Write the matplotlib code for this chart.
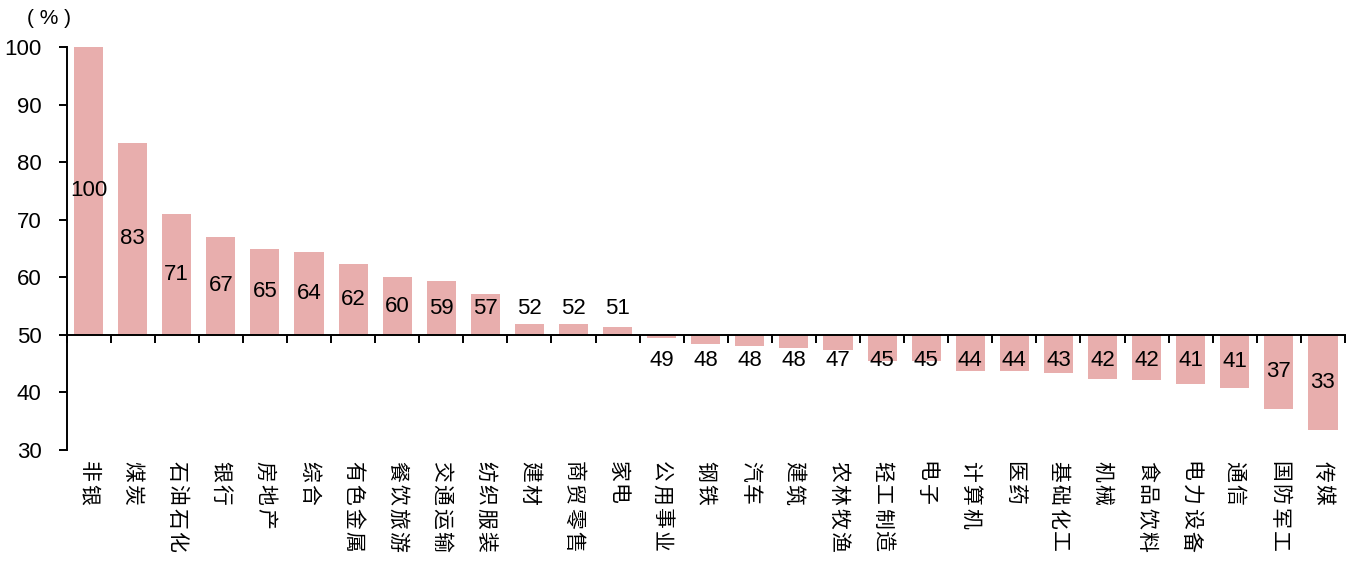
import numpy as np
import matplotlib
matplotlib.use("Agg")
import matplotlib.pyplot as plt
import matplotlib.transforms as mtrans

# Industry names and their readings (%), baseline 50
categories = ["非银", "煤炭", "石油石化", "银行", "房地产", "综合", "有色金属", "餐饮旅游",
              "交通运输", "纺织服装", "建材", "商贸零售", "家电", "公用事业", "钢铁", "汽车",
              "建筑", "农林牧渔", "轻工制造", "电子", "计算机", "医药", "基础化工", "机械",
              "食品饮料", "电力设备", "通信", "国防军工", "传媒"]
values = [100.0, 83.4, 71.0, 67.0, 64.9, 64.4, 62.3, 60.0, 59.3, 57.1, 51.9, 51.9, 51.4,
          49.4, 48.4, 48.1, 47.7, 47.4, 45.4, 45.4, 43.7, 43.7, 43.4, 42.4, 42.1, 41.4,
          40.8, 37.1, 33.4]
baseline = 50
y_ticks = [30, 40, 50, 60, 70, 80, 90, 100]

bar_color = "#E8AEAD"
num_font = ["Liberation Sans", "DejaVu Sans"]
cjk_font = ["Noto Sans CJK SC", "DejaVu Sans"]

W, H = 1355, 561
fig = plt.figure(figsize=(W / 100, H / 100), dpi=100)
ax = fig.add_axes([66.5 / W, 111 / H, (1345 - 66.5) / W, (514 - 111) / H])

x = np.arange(len(categories))
vals = np.array(values)
ax.bar(x, vals - baseline, bottom=baseline, width=0.66, color=bar_color, zorder=2)

ax.set_xlim(-0.5, len(categories) - 0.5)
ax.set_ylim(30, 100)

for s in ("top", "right"):
    ax.spines[s].set_visible(False)
ax.spines["bottom"].set_position(("data", baseline))
ax.spines["bottom"].set_linewidth(1.4)
ax.spines["left"].set_linewidth(1.4)
ax.spines["bottom"].set_zorder(3)

ax.set_xticks(np.arange(-0.5, len(categories), 1.0))
ax.set_xticklabels([])
ax.tick_params(axis="x", direction="out", length=6, width=1.4, color="black")

ax.set_yticks(y_ticks)
ax.set_yticklabels([str(t) for t in y_ticks], fontsize=16, family=num_font)
ax.tick_params(axis="y", direction="out", length=6, width=1.4, pad=12)

# value labels: centred in the bar, kept clear of the baseline for short bars
for xi, v in zip(x, vals):
    mid = (v + baseline) / 2
    if v >= baseline:
        y = max(mid, 54.6)
    else:
        y = min(mid, 45.5)
    ax.text(xi, y, f"{v:.0f}", ha="center", va="center", fontsize=16,
            family=num_font, color="black", zorder=4)

# vertical category names under the plot area, one glyph at a time for even spacing
char_pitch = 23.3
base_trans = mtrans.blended_transform_factory(ax.transData, ax.transAxes)
for xi, name in zip(x, categories):
    for k, ch in enumerate(name):
        tr = mtrans.offset_copy(base_trans, fig=fig, x=0, y=-11 - k * char_pitch, units="dots")
        ax.text(xi, 0, ch, rotation=-90, ha="center", va="top", fontsize=15,
                family=cjk_font, transform=tr, clip_on=False)

fig.text(49 / W, 1 - 18 / H, "( % )", ha="center", va="center", fontsize=15, family=num_font)

fig.savefig("out.png", dpi=100)
